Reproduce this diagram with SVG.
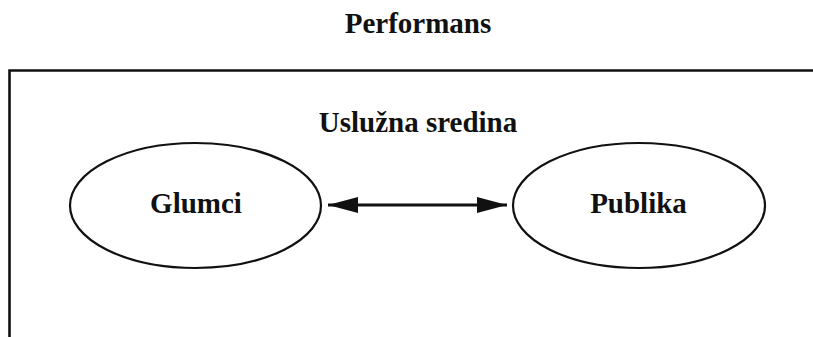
<svg xmlns="http://www.w3.org/2000/svg" width="813" height="337" viewBox="0 0 813 337">
<defs>
<style>
.t{font-family:"Liberation Serif","Times New Roman",serif;font-weight:bold;font-size:29px;fill:#111;text-anchor:middle}
.n{fill:#fff;stroke:#111;stroke-width:2.2}
.c{stroke:#111;stroke-width:3;fill:none}
</style>
<marker id="ah" viewBox="0 0 30 16" refX="30" refY="8" markerWidth="30" markerHeight="16" markerUnits="userSpaceOnUse" orient="auto-start-reverse">
<path d="M0,0 L30,8 L0,16 Z" fill="#111"/>
</marker>
</defs>
<rect width="813" height="337" fill="#fff"/>
<text class="t" x="418" y="33">Performans</text>
<g id="frame">
<path d="M9.5,340 L9.5,70.5 L816,70.5" fill="none" stroke="#111" stroke-width="2.6"/>
<text class="t" x="418" y="132">Uslužna sredina</text>
</g>
<g id="glumci">
<ellipse class="n" cx="195.5" cy="205.5" rx="125.5" ry="62.5"/>
<text class="t" x="196" y="213">Glumci</text>
</g>
<g id="publika">
<ellipse class="n" cx="639" cy="205.5" rx="126" ry="62.5"/>
<text class="t" x="638.5" y="213">Publika</text>
</g>
<g id="connectors">
<line class="c" x1="328" y1="205" x2="507" y2="205" marker-start="url(#ah)" marker-end="url(#ah)"/>
</g>
</svg>
